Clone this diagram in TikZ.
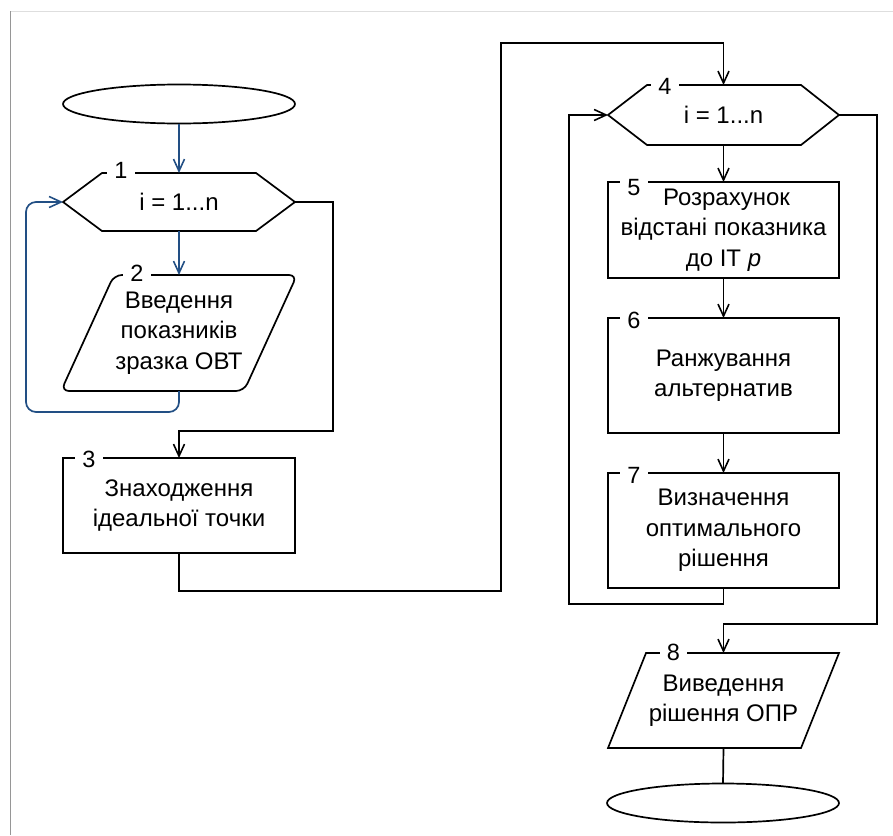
\documentclass[tikz,border=0pt]{standalone}
\usepackage{fontspec}
\setmainfont{Liberation Sans}
\usetikzlibrary{arrows.meta,shapes.geometric,calc}
\definecolor{loopblue}{RGB}{34,79,132}
\definecolor{frametop}{RGB}{222,222,222}
\definecolor{frameleft}{RGB}{150,150,150}
\begin{document}
\begin{tikzpicture}[x=1pt,y=-1pt,
  txt/.style={font=\fontsize{24}{30.5}\selectfont, align=center},
  outline/.style={line width=1.7pt, black},
  procbox/.style={txt, draw, outline, rectangle, minimum width=231pt, inner sep=0pt, outer sep=0pt},
  holder/.style={txt, rectangle, inner sep=0pt, outer sep=0pt},
  term/.style={ellipse, draw, outline, minimum width=232pt, minimum height=39pt, inner sep=0pt, outer sep=0pt},
  numlabel/.style={fill=white, inner xsep=7pt, inner ysep=1pt, font=\fontsize{23.5}{23.5}\selectfont},
  flow/.style={line width=1.7pt, -{Straight Barb[length=12pt,width=11pt,line width=1.6pt]}},
  plain/.style={line width=1.7pt},
  blueflow/.style={flow, loopblue},
]
\useasboundingbox (0,0) rectangle (893,835);

% page frame
\draw[frametop, line width=1pt] (10,11) -- (893,11);
\draw[frameleft, line width=1pt] (10,11) -- (10,835);

% ---------- left column ----------
\node[term] (start) at (179,104) {};
\node[holder, minimum width=232pt, minimum height=58pt] (h1) at (179,202) {i = 1...n};
\node[holder, minimum width=236pt, minimum height=116pt] (p2) at (179,333)
  {Введення\\показників\\зразка ОВТ};
\node[procbox, minimum width=232pt, minimum height=95pt] (b3) at (179,505.5)
  {Знаходження\\ідеальної точки};

% loop header 1
\draw[outline] (h1.west) -- ([xshift=39pt]h1.north west) -- ([xshift=-39pt]h1.north east)
  -- (h1.east) -- ([xshift=-39pt]h1.south east) -- ([xshift=39pt]h1.south west) -- cycle;
% input 2
\draw[outline, rounded corners=8pt] (p2.north) -- (p2.north east)
  -- ([xshift=-53pt]p2.south east) -- (p2.south west)
  -- ([xshift=53pt]p2.north west) -- (p2.north);

% ---------- right column ----------
\node[holder, minimum width=231pt, minimum height=60pt] (h4) at (723.5,115) {i = 1...n};
\node[procbox, minimum height=96pt] (b5) at (723.5,230)
  {\hspace*{6pt}Розрахунок\\відстані показника\\до ІТ \textit{p}};
\node[procbox, minimum height=115pt] (b6) at (723.5,375.5)
  {Ранжування\\альтернатив};
\node[procbox, minimum height=115pt] (b7) at (723.5,530.5)
  {Визначення\\оптимального\\рішення};
\node[holder, minimum width=231pt, minimum height=95pt] (p8) at (723.5,700.5)
  {Виведення\\рішення ОПР};
\node[term] (stop) at (723,803) {};

% loop header 4
\draw[outline] (h4.west) -- ([xshift=39pt]h4.north west) -- ([xshift=-38pt]h4.north east)
  -- (h4.east) -- ([xshift=-38pt]h4.south east) -- ([xshift=39pt]h4.south west) -- cycle;
% output 8
\draw[outline] (p8.north west) ++(38,0) -- (p8.north east)
  -- ([xshift=-38pt]p8.south east) -- (p8.south west) -- cycle;

% ---------- connectors ----------
\draw[blueflow] (start.south) -- (h1.north);
\draw[blueflow] (h1.south) -- (p2.north);
\draw[blueflow, rounded corners=10pt] (p2.south) -- ++(0,21)
  -| ([xshift=-37pt]h1.west) -- (h1.west);
\draw[flow] (h1.east) -- ++(38,0) |- ([yshift=27pt]b3.north) -- (b3.north);
\coordinate (jump) at (501,43);
\draw[flow] (b3.south) -- ++(0,38) -| (jump) -| (h4.north);
\draw[flow] (h4.south) -- (b5.north);
\draw[flow] (b5.south) -- (b6.north);
\draw[flow] (b6.south) -- (b7.north);
\draw[flow] (b7.south) -- ++(0,16) -| ([xshift=-39pt]h4.west) -- (h4.west);
\draw[flow] (h4.east) -- ++(38,0) |- ([yshift=29pt]p8.north) -- (p8.north);
\draw[plain] (p8.south) -- (stop.north);

% ---------- block numbers ----------
\node[numlabel] (n1) at (121,170.5) {1};
\node[numlabel] (n2) at (137,273) {2};
\node[numlabel] (n3) at (89,459.5) {3};
\node[numlabel] (n4) at (665,86) {4};
\node[numlabel] (n5) at (634,187.5) {5};
\node[numlabel] (n6) at (634,320) {6};
\node[numlabel] (n7) at (634,475) {7};
\node[numlabel] (n8) at (673.5,652) {8};
\end{tikzpicture}
\end{document}
